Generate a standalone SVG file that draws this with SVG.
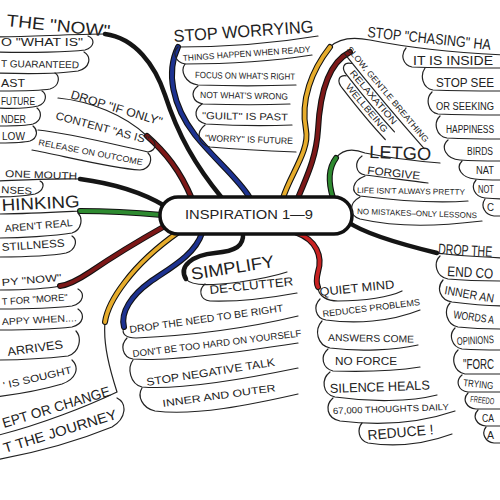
<svg xmlns="http://www.w3.org/2000/svg" width="500" height="500" viewBox="0 0 500 500">
<style>
.ln{fill:none;stroke:#222;stroke-width:1.2;stroke-linecap:round}
.t{font-family:'Liberation Sans',Arial,sans-serif;fill:#222}
.ob{fill:none;stroke:#111;stroke-width:6;stroke-linecap:round}
.bk{fill:none;stroke:#151515;stroke-width:4.5;stroke-linecap:round}
.bl{fill:none;stroke:#1d3290;stroke-width:3.8;stroke-linecap:round}
.ye{fill:none;stroke:#e6ac2c;stroke-width:3.8;stroke-linecap:round}
.mr{fill:none;stroke:#7c1818;stroke-width:3.8;stroke-linecap:round}
.rd{fill:none;stroke:#c82222;stroke-width:3.8;stroke-linecap:round}
.gr{fill:none;stroke:#2e8a30;stroke-width:3.8;stroke-linecap:round}
</style>
<rect width="500" height="500" fill="#fff"/>
<g id="connectors">
  <path class="ln" d="M147,136 C125,115 90,101 58,98"/>
  <path class="ln" d="M-5,181 C30,180 60,178 80,179"/>
  <path class="ln" d="M-5,214 C25,214 60,212 80,211"/>
  <path class="ln" d="M-5,290 C20,290 45,289 60,286"/>
  <path class="ln" d="M-5,37 C30,37 70,34 106,34"/>
  <path class="ln" d="M178,47 C220,47 270,44 318,36"/>
  <path class="ln" d="M330,47 C340,37 355,37 370,40 C400,46 440,52 505,55"/>
  <path class="ln" d="M336,158 C342,150 352,148 365,153 C390,158 415,161 440,163"/>
  <path class="ln" d="M437,253 C460,256 480,257 505,258"/>
  <path class="ln" d="M318,287 C318,296 327,301 338,301 C365,301 390,297 402,291"/>
  <path class="ln" d="M186,279 C192,287 215,285 240,282 C260,279 275,276 287,272"/>
  <path class="ln" d="M124,327 C121,334 126,338 136,338 C180,336 240,330 298,316"/>
  <path class="ln" d="M105,322 C103,345 110,370 117,392 C90,405 40,425 -5,436"/>
  <path class="bk" d="M222,198 C195,165 178,135 165,95 C155,65 135,38 105,34"/>
  <path class="ob" d="M192,199 C180,170 165,152 147,136"/>
  <path class="mr" d="M192,199 C180,170 165,152 147,136"/>
  <path class="ob" d="M250,198 C238,178 215,160 195,135 C172,105 166,72 178,47"/>
  <path class="bl" d="M250,198 C238,178 215,160 195,135 C172,105 166,72 178,47"/>
  <path class="ob" d="M283,198 C290,175 310,150 306,130 C300,100 312,70 330,47"/>
  <path class="ye" d="M283,198 C290,175 310,150 306,130 C300,100 312,70 330,47"/>
  <path class="ob" d="M298,198 C305,180 316,160 318,130 C320,90 330,62 350,52"/>
  <path class="mr" d="M298,198 C305,180 316,160 318,130 C320,90 330,62 350,52"/>
  <path class="ob" d="M333,198 C329,185 327,170 336,158"/>
  <path class="gr" d="M333,198 C329,185 327,170 336,158"/>
  <path class="bk" d="M348,222 C365,234 400,244 437,253"/>
  <path class="ob" d="M297,233 C316,240 323,256 318,272 C316,280 317,285 318,287"/>
  <path class="rd" d="M297,233 C316,240 323,256 318,272 C316,280 317,285 318,287"/>
  <path class="bk" d="M243,233 C244,246 236,251 215,253 C193,255 178,266 186,279"/>
  <path class="ob" d="M202,233 C195,255 170,268 150,282 C132,295 120,312 124,327"/>
  <path class="bl" d="M202,233 C195,255 170,268 150,282 C132,295 120,312 124,327"/>
  <path class="ob" d="M180,231 C160,245 140,262 125,282 C115,295 107,308 105,322"/>
  <path class="ye" d="M180,231 C160,245 140,262 125,282 C115,295 107,308 105,322"/>
  <path class="ob" d="M165,226 C140,240 115,255 90,272 C78,280 68,285 60,286"/>
  <path class="mr" d="M165,226 C140,240 115,255 90,272 C78,280 68,285 60,286"/>
  <path class="ob" d="M162,215 C140,213 110,211 80,211"/>
  <path class="gr" d="M162,215 C140,213 110,211 80,211"/>
  <path class="bk" d="M165,206 C150,197 125,185 80,179"/>
</g>
<g id="center">
  <rect x="160" y="197" width="192" height="37" rx="18" fill="#fff" stroke="#111" stroke-width="3.5"/>
  <text class="t" x="185" y="219" font-size="12.5" textLength="128" lengthAdjust="spacingAndGlyphs">INSPIRATION 1—9</text>
</g>
<g id="now">
  <text class="t" x="6" y="26" font-size="17" textLength="104" lengthAdjust="spacingAndGlyphs" transform="rotate(6 6 26)">THE "NOW"</text>
  <path class="ln" d="M-5,52 C30,53 70,52 85,50 C95,47 95,39 88,36"/>
  <text class="t" x="1" y="46" font-size="10" textLength="82" lengthAdjust="spacingAndGlyphs">O "WHAT IS"</text>
  <path class="ln" d="M-5,73 C30,74 65,73 78,71 C90,68 92,57 84,52"/>
  <text class="t" x="1" y="67" font-size="10" textLength="78" lengthAdjust="spacingAndGlyphs" transform="rotate(1 1 67)">T GUARANTEED</text>
  <path class="ln" d="M-5,91 C20,91 40,91 50,89 C60,86 60,76 55,73"/>
  <text class="t" x="1" y="87" font-size="11" textLength="24" lengthAdjust="spacingAndGlyphs">AST</text>
  <path class="ln" d="M-5,108 C15,109 30,108 38,106 C47,103 47,94 42,91"/>
  <text class="t" x="1" y="105" font-size="10" textLength="34" lengthAdjust="spacingAndGlyphs">FUTURE</text>
  <path class="ln" d="M-5,126 C10,126 25,126 33,124 C42,121 42,112 37,108"/>
  <text class="t" x="1" y="123" font-size="10" textLength="25" lengthAdjust="spacingAndGlyphs">NDER</text>
  <path class="ln" d="M-5,143 C10,143 22,143 30,141 C38,138 38,130 33,126"/>
  <text class="t" x="2" y="140" font-size="10" textLength="23" lengthAdjust="spacingAndGlyphs">LOW</text>
</g>
<g id="ifonly">
  <text class="t" x="70" y="98" font-size="12" textLength="95" lengthAdjust="spacingAndGlyphs" transform="rotate(17 70 98)">DROP "IF ONLY"</text>
  <path class="ln" d="M150,137 C157,142 157,150 148,152 C120,146 70,133 38,130"/>
  <text class="t" x="55" y="119" font-size="11" textLength="96" lengthAdjust="spacingAndGlyphs" transform="rotate(15 55 119)">CONTENT "AS IS"</text>
  <path class="ln" d="M148,153 C153,158 151,169 140,170 C110,168 60,155 32,150"/>
  <text class="t" x="38" y="145" font-size="8.5" textLength="106" lengthAdjust="spacingAndGlyphs" transform="rotate(11 38 145)">RELEASE ON OUTCOME</text>
</g>
<g id="mouth">
  <text class="t" x="5" y="177" font-size="10" textLength="72" lengthAdjust="spacingAndGlyphs" transform="rotate(2 5 177)">ONE MOUTH</text>
  <path class="ln" d="M-5,197 C10,197 25,196 35,194 C44,191 45,183 40,181"/>
  <text class="t" x="1" y="193" font-size="10" textLength="31" lengthAdjust="spacingAndGlyphs" transform="rotate(3 1 193)">NSES</text>
</g>
<g id="thinking">
  <text class="t" x="2" y="211" font-size="17" textLength="78" lengthAdjust="spacingAndGlyphs" transform="rotate(-3 2 211)">HINKING</text>
  <path class="ln" d="M-5,238 C20,238 55,236 72,233 C82,230 83,218 78,213"/>
  <text class="t" x="5" y="232" font-size="10" textLength="68" lengthAdjust="spacingAndGlyphs" transform="rotate(-5 5 232)">AREN'T REAL</text>
  <path class="ln" d="M-5,257 C20,257 50,256 66,253 C76,250 78,240 72,236"/>
  <text class="t" x="2" y="251" font-size="11" textLength="63" lengthAdjust="spacingAndGlyphs" transform="rotate(-4 2 251)">STILLNESS</text>
</g>
<g id="pynow">
  <text class="t" x="2" y="286" font-size="10" textLength="60" lengthAdjust="spacingAndGlyphs" transform="rotate(-5 2 286)">PY "NOW"</text>
  <path class="ln" d="M-5,309 C20,309 55,308 72,306 C84,303 85,293 78,289"/>
  <text class="t" x="2" y="305" font-size="9.5" textLength="66" lengthAdjust="spacingAndGlyphs" transform="rotate(-4 2 305)">T FOR "MORE"</text>
  <path class="ln" d="M-5,330 C20,330 55,329 72,327 C84,324 85,314 78,309"/>
  <text class="t" x="2" y="325" font-size="9.5" textLength="75" lengthAdjust="spacingAndGlyphs" transform="rotate(-3 2 325)">APPY WHEN....</text>
  <path class="ln" d="M-5,360 C20,360 50,358 68,356 C80,352 82,338 76,331"/>
  <text class="t" x="8" y="356" font-size="12" textLength="56" lengthAdjust="spacingAndGlyphs" transform="rotate(-8 8 356)">ARRIVES</text>
  <path class="ln" d="M-5,397 C20,394 45,389 62,384 C76,379 80,368 72,360"/>
  <text class="t" x="4" y="389" font-size="10" textLength="70" lengthAdjust="spacingAndGlyphs" transform="rotate(-13 4 389)">' IS SOUGHT</text>
</g>
<g id="accept">
  <text class="t" x="4" y="428" font-size="14" textLength="112" lengthAdjust="spacingAndGlyphs" transform="rotate(-17 4 428)">EPT OR CHANGE</text>
  <path class="ln" d="M117,398 C127,403 127,418 112,427 C80,440 40,452 -5,460"/>
  <text class="t" x="5" y="453" font-size="14" textLength="118" lengthAdjust="spacingAndGlyphs" transform="rotate(-17 5 453)">T THE JOURNEY</text>
</g>
<g id="worrying">
  <text class="t" x="174" y="42" font-size="17" textLength="140" lengthAdjust="spacingAndGlyphs" transform="rotate(-4 174 42)">STOP WORRYING</text>
  <path class="ln" d="M178,47 C172,52 175,62 185,64 C230,64 280,60 312,55"/>
  <text class="t" x="183" y="61" font-size="8.5" textLength="128" lengthAdjust="spacingAndGlyphs" transform="rotate(-4 183 61)">THINGS HAPPEN WHEN READY</text>
  <path class="ln" d="M185,64 C180,71 185,83 198,85 C230,86 265,86 296,85"/>
  <text class="t" x="195" y="78" font-size="9" textLength="100" lengthAdjust="spacingAndGlyphs" transform="rotate(1 195 78)">FOCUS ON WHAT'S RIGHT</text>
  <path class="ln" d="M198,86 C190,92 192,102 203,104 C235,105 265,105 290,104"/>
  <text class="t" x="200" y="98" font-size="9" textLength="88" lengthAdjust="spacingAndGlyphs" transform="rotate(1 200 98)">NOT WHAT'S WRONG</text>
  <path class="ln" d="M202,104 C193,110 194,121 206,124 C240,126 265,126 292,125"/>
  <text class="t" x="202" y="119" font-size="10" textLength="86" lengthAdjust="spacingAndGlyphs" transform="rotate(1 202 119)">"GUILT" IS PAST</text>
  <path class="ln" d="M205,125 C196,132 197,144 210,147 C245,150 270,151 296,152"/>
  <text class="t" x="205" y="141" font-size="9" textLength="88" lengthAdjust="spacingAndGlyphs" transform="rotate(2 205 141)">"WORRY" IS FUTURE</text>
</g>
<g id="chasing">
  <text class="t" x="367" y="37" font-size="15" textLength="124" lengthAdjust="spacingAndGlyphs" transform="rotate(6 367 37)">STOP "CHASING" HA</text>
  <path class="ln" d="M406,48 C400,55 403,65 412,67 C440,68 470,68 505,68"/>
  <text class="t" x="413" y="65" font-size="12" textLength="80" lengthAdjust="spacingAndGlyphs">IT IS INSIDE</text>
  <path class="ln" d="M425,68 C420,75 422,88 433,90 C460,91 485,91 505,91"/>
  <text class="t" x="436" y="87" font-size="12" textLength="58" lengthAdjust="spacingAndGlyphs">STOP SEE</text>
  <path class="ln" d="M432,92 C425,99 428,112 438,114 C465,115 490,115 505,115"/>
  <text class="t" x="436" y="110" font-size="10" textLength="58" lengthAdjust="spacingAndGlyphs">OR SEEKING</text>
  <path class="ln" d="M440,116 C433,123 436,136 447,138 C470,139 490,139 505,139"/>
  <text class="t" x="446" y="133" font-size="10" textLength="48" lengthAdjust="spacingAndGlyphs">HAPPINESS</text>
  <path class="ln" d="M448,140 C440,147 446,159 460,160 C475,161 490,161 505,161"/>
  <text class="t" x="467" y="155" font-size="10" textLength="26" lengthAdjust="spacingAndGlyphs">BIRDS</text>
  <path class="ln" d="M462,161 C455,168 462,178 475,179 C485,180 495,180 505,180"/>
  <text class="t" x="476" y="174" font-size="10" textLength="18" lengthAdjust="spacingAndGlyphs">NAT</text>
  <path class="ln" d="M476,180 C470,187 475,197 485,198 C495,199 500,199 505,199"/>
  <text class="t" x="478" y="193" font-size="10" textLength="16" lengthAdjust="spacingAndGlyphs">NOT</text>
  <path class="ln" d="M485,199 C480,206 485,215 494,216 L505,216"/>
  <text class="t" x="487" y="211" font-size="10" textLength="7" lengthAdjust="spacingAndGlyphs">C</text>
</g>
<g id="breathing" transform="translate(345,48) rotate(50)">
  <path class="ln" d="M4,4 C40,5 90,5 128,4"/>
  <text class="t" x="2" y="0" font-size="8.5" textLength="122" lengthAdjust="spacingAndGlyphs">SLOW, GENTLE BREATHING</text>
  <path class="ln" d="M16,5 C10,10 12,16 22,16 C50,17 75,17 96,16"/>
  <text class="t" x="22" y="13" font-size="9" textLength="68" lengthAdjust="spacingAndGlyphs">RELAXATION</text>
  <path class="ln" d="M22,17 C17,22 19,28 30,28 C55,29 80,29 96,28"/>
  <text class="t" x="30" y="25" font-size="9" textLength="60" lengthAdjust="spacingAndGlyphs">WELLBEING</text>
</g>
<g id="letgo">
  <text class="t" x="369" y="158" font-size="18" textLength="62" lengthAdjust="spacingAndGlyphs" transform="rotate(2 369 158)">LETGO</text>
  <path class="ln" d="M362,156 C354,162 355,173 365,175 C390,178 410,181 428,183"/>
  <text class="t" x="367" y="174" font-size="11" textLength="53" lengthAdjust="spacingAndGlyphs" transform="rotate(6 367 174)">FORGIVE</text>
  <path class="ln" d="M365,176 C352,181 350,192 360,196 C400,201 440,203 468,201"/>
  <text class="t" x="357" y="193" font-size="8" textLength="108" lengthAdjust="spacingAndGlyphs" transform="rotate(1 357 193)">LIFE ISN'T ALWAYS PRETTY</text>
  <path class="ln" d="M360,197 C349,203 348,215 360,219 C400,228 440,226 482,221"/>
  <text class="t" x="357" y="214" font-size="8" textLength="120" lengthAdjust="spacingAndGlyphs" transform="rotate(2 357 214)">NO MISTAKES–ONLY LESSONS</text>
</g>
<g id="dropthe">
  <text class="t" x="438" y="254" font-size="15" textLength="54" lengthAdjust="spacingAndGlyphs" transform="rotate(3 438 254)">DROP THE</text>
  <path class="ln" d="M440,256 C433,263 436,277 448,279 C470,281 490,281 505,281"/>
  <text class="t" x="447" y="276" font-size="14" textLength="46" lengthAdjust="spacingAndGlyphs" transform="rotate(3 447 276)">END CO</text>
  <path class="ln" d="M443,280 C436,288 440,300 452,302 C475,305 492,306 505,306"/>
  <text class="t" x="444" y="294" font-size="12" textLength="50" lengthAdjust="spacingAndGlyphs" transform="rotate(10 444 294)">INNER AN</text>
  <path class="ln" d="M450,303 C443,311 447,325 458,327 C478,329 492,329 505,329"/>
  <text class="t" x="453" y="318" font-size="11" textLength="41" lengthAdjust="spacingAndGlyphs" transform="rotate(8 453 318)">WORDS A</text>
  <path class="ln" d="M455,328 C448,335 452,347 462,349 C480,350 495,350 505,350"/>
  <text class="t" x="457" y="345" font-size="11" textLength="37" lengthAdjust="spacingAndGlyphs" transform="rotate(-3 457 345)">OPINIONS</text>
  <path class="ln" d="M458,350 C450,358 454,372 465,374 L505,374"/>
  <text class="t" x="463" y="369" font-size="15" textLength="31" lengthAdjust="spacingAndGlyphs">"FORC</text>
  <path class="ln" d="M462,375 C455,381 458,391 468,392 L505,392"/>
  <text class="t" x="463" y="386" font-size="10" textLength="30" lengthAdjust="spacingAndGlyphs" transform="rotate(6 463 386)">TRYING</text>
  <path class="ln" d="M468,393 C462,399 466,408 476,409 L505,409"/>
  <text class="t" x="470" y="402" font-size="9" textLength="24" lengthAdjust="spacingAndGlyphs" transform="rotate(6 470 402)">FREEDO</text>
  <path class="ln" d="M478,410 C472,416 476,425 486,426 L505,426"/>
  <text class="t" x="482" y="422" font-size="10" textLength="12" lengthAdjust="spacingAndGlyphs">CA</text>
  <path class="ln" d="M486,427 C481,433 485,442 494,443 L505,443"/>
  <text class="t" x="487" y="439" font-size="10" textLength="7" lengthAdjust="spacingAndGlyphs">A</text>
</g>
<g id="quiet">
  <text class="t" x="320" y="296" font-size="12" textLength="75" lengthAdjust="spacingAndGlyphs" transform="rotate(-6 320 296)">QUIET MIND</text>
  <path class="ln" d="M320,299 C313,306 315,318 326,320 C355,324 390,322 420,310"/>
  <text class="t" x="323" y="317" font-size="9" textLength="98" lengthAdjust="spacingAndGlyphs" transform="rotate(-7 323 317)">REDUCES PROBLEMS</text>
  <path class="ln" d="M322,321 C314,330 317,345 330,348 C360,352 395,350 418,345"/>
  <text class="t" x="328" y="341" font-size="10" textLength="86" lengthAdjust="spacingAndGlyphs" transform="rotate(1 328 341)">ANSWERS COME</text>
  <path class="ln" d="M328,349 C320,356 322,368 333,371 C365,372 395,371 420,367"/>
  <text class="t" x="335" y="365" font-size="10" textLength="62" lengthAdjust="spacingAndGlyphs">NO FORCE</text>
  <path class="ln" d="M330,372 C321,379 322,394 335,397 C370,402 410,402 437,395"/>
  <text class="t" x="330" y="393" font-size="13" textLength="100" lengthAdjust="spacingAndGlyphs" transform="rotate(-2 330 393)">SILENCE HEALS</text>
  <path class="ln" d="M333,398 C325,405 326,418 340,421 C380,426 420,423 455,411"/>
  <text class="t" x="333" y="414" font-size="9" textLength="116" lengthAdjust="spacingAndGlyphs" transform="rotate(-2 333 414)">67,000 THOUGHTS DAILY</text>
  <path class="ln" d="M362,423 C357,429 358,440 368,443 C395,447 425,444 452,434"/>
  <text class="t" x="368" y="440" font-size="14" textLength="66" lengthAdjust="spacingAndGlyphs" transform="rotate(-5 368 440)">REDUCE !</text>
</g>
<g id="simplify">
  <text class="t" x="192" y="280" font-size="17" textLength="84" lengthAdjust="spacingAndGlyphs" transform="rotate(-9 192 280)">SIMPLIFY</text>
  <path class="ln" d="M205,284 C198,290 200,300 210,301 C240,302 270,298 297,293"/>
  <text class="t" x="210" y="294" font-size="12" textLength="84" lengthAdjust="spacingAndGlyphs" transform="rotate(-6 210 294)">DE-CLUTTER</text>
</g>
<g id="needright">
  <text class="t" x="130" y="333" font-size="10" textLength="155" lengthAdjust="spacingAndGlyphs" transform="rotate(-8 130 333)">DROP THE NEED TO BE RIGHT</text>
  <path class="ln" d="M127,338 C120,345 122,357 133,359 C170,362 240,352 298,343"/>
  <text class="t" x="133" y="357" font-size="9.5" textLength="170" lengthAdjust="spacingAndGlyphs" transform="rotate(-7 133 357)">DON'T BE TOO HARD ON YOURSELF</text>
  <path class="ln" d="M133,360 C127,368 130,384 142,387 C180,390 240,380 298,368"/>
  <text class="t" x="147" y="386" font-size="11" textLength="130" lengthAdjust="spacingAndGlyphs" transform="rotate(-9 147 386)">STOP NEGATIVE TALK</text>
  <path class="ln" d="M142,388 C137,396 142,408 155,411 C195,416 250,405 298,394"/>
  <text class="t" x="163" y="407" font-size="10" textLength="114" lengthAdjust="spacingAndGlyphs" transform="rotate(-8 163 407)">INNER AND OUTER</text>
</g>
</svg>
